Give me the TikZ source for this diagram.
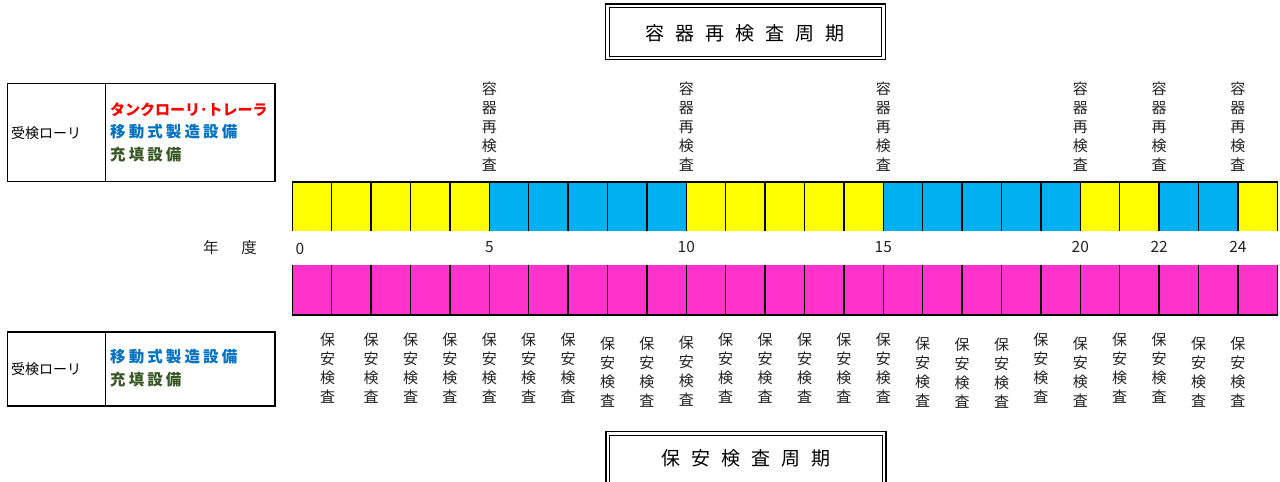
\documentclass[tikz,border=0pt]{standalone}
\usepackage{fontspec}
\setmainfont{Noto Sans CJK JP}
\usepackage{tikz}
\definecolor{cellyellow}{HTML}{FFFF00}
\definecolor{cellblue}{HTML}{00B0F0}
\definecolor{cellpink}{HTML}{FF33CC}
\definecolor{txtred}{HTML}{FF0000}
\definecolor{txtblue}{HTML}{0070C0}
\definecolor{txtgreen}{HTML}{375623}
\definecolor{txtgray}{HTML}{222222}
\newcommand{\xo}{292.3}
\newcommand{\cw}{39.4}

\begin{document}
\begin{tikzpicture}[x=1pt,y=-1pt]
\tikzstyle{every node}+=[inner sep=0pt]
\tikzstyle{cellline}=[black, line width=1.5pt]
\tikzstyle{boxline}=[black, line width=1.3pt]
\tikzstyle{vlabel}=[align=center, text=txtgray, font=\fontsize{15}{19}\selectfont]
\tikzstyle{yearlabel}=[text=txtgray, font=\fontsize{15.5}{18}\selectfont]
\tikzstyle{kindlabel}=[anchor=west, font=\fontsize{15.5}{18}\selectfont\bfseries]
\useasboundingbox (0,0) rectangle (1280,482);
% title boxes
\draw [black, line width=1.5pt] (605.5,4) rectangle (885.5,59.5);
\draw [black, line width=1pt] (609.5,7.5) rectangle (881.5,56);
\draw (745,33) node (cycle1) {\fontsize{19}{20}\selectfont 容\hspace{11pt}器\hspace{11pt}再\hspace{11pt}検\hspace{11pt}査\hspace{11pt}周\hspace{11pt}期};
\draw [black, line width=1.5pt] (606,431.5) rectangle (886,495);
\draw [black, line width=1pt] (609.5,435) rectangle (882.5,495);
\draw (746,458) node (cycle2) {\fontsize{19}{20}\selectfont 保\hspace{11pt}安\hspace{11pt}検\hspace{11pt}査\hspace{11pt}周\hspace{11pt}期};
% left boxes
\draw [boxline] (7.5,83.5) rectangle (275,181.5);
\draw [boxline] (105.7,83.5) -- (105.7,181.5);
\draw (11,133) node [anchor=west] (lorry1) {\fontsize{14}{16}\selectfont 受検ローリ};
\draw (110,110) node [kindlabel, text=txtred] (tank1) {\fontsize{15}{18}\selectfont タンクローリ･トレーラ};
\draw (110,132) node [kindlabel, text=txtblue] (mobile1) {\addfontfeature{LetterSpace=20}移動式製造設備};
\draw (110,155) node [kindlabel, text=txtgreen] (fill1) {\addfontfeature{LetterSpace=20}充填設備};
\draw [boxline] (7.5,332) rectangle (275,406);
\draw [boxline] (105.7,332) -- (105.7,406);
\draw (11,369) node [anchor=west] (lorry2) {\fontsize{14}{16}\selectfont 受検ローリ};
\draw (110,357) node [kindlabel, text=txtblue] (mobile2) {\addfontfeature{LetterSpace=20}移動式製造設備};
\draw (110,380) node [kindlabel, text=txtgreen] (fill2) {\addfontfeature{LetterSpace=20}充填設備};
% vessel bar
\foreach \c [count=\i from 0] in {cellyellow,cellyellow,cellyellow,cellyellow,cellyellow,
  cellblue,cellblue,cellblue,cellblue,cellblue,
  cellyellow,cellyellow,cellyellow,cellyellow,cellyellow,
  cellblue,cellblue,cellblue,cellblue,cellblue,
  cellyellow,cellyellow,cellblue,cellblue,cellyellow}
  \fill [\c] ({\xo+\i*\cw},182) rectangle ({\xo+(\i+1)*\cw},231);
\draw [cellline] (\xo,231) -- (\xo,182) -- ({\xo+25*\cw},182) -- ({\xo+25*\cw},231);
\foreach \i in {1,...,24}
  \draw [cellline] ({\xo+\i*\cw},182) -- ({\xo+\i*\cw},231);
% safety bar
\fill [cellpink] (\xo,265) rectangle ({\xo+25*\cw},315);
\draw [cellline] (\xo,265) -- (\xo,315) -- ({\xo+25*\cw},315) -- ({\xo+25*\cw},265);
\foreach \i in {1,...,24}
  \draw [cellline] ({\xo+\i*\cw},265) -- ({\xo+\i*\cw},315);
% years
\draw (230,248) node [yearlabel] (nendo) {年\hspace{23pt}度};
\draw (300,249) node [yearlabel] (yr0) {0};
\foreach \n in {5,10,15,20,22,24}
  \draw ({\xo+\n*\cw},247) node [yearlabel] (yr\n) {\n};
% vessel checks
\foreach \n in {5,10,15,20,22,24}
  \draw ({\xo+\n*\cw},127) node [vlabel] (vessel\n) {容\\器\\再\\検\\査};
% safety checks
\foreach \k/\d in {1/0,2/0,3/0,4/0,5/0,6/0,7/0,8/4,9/4,10/3,11/0,12/0,
  13/0,14/0,15/0,16/4,17/5,18/5,19/0,20/4,21/0,22/0,23/4,24/4}
  \draw ({\xo+\k*\cw-(\k==1)*4},{368+\d}) node [vlabel] (safety\k) {保\\安\\検\\査};
\end{tikzpicture}
\end{document}
